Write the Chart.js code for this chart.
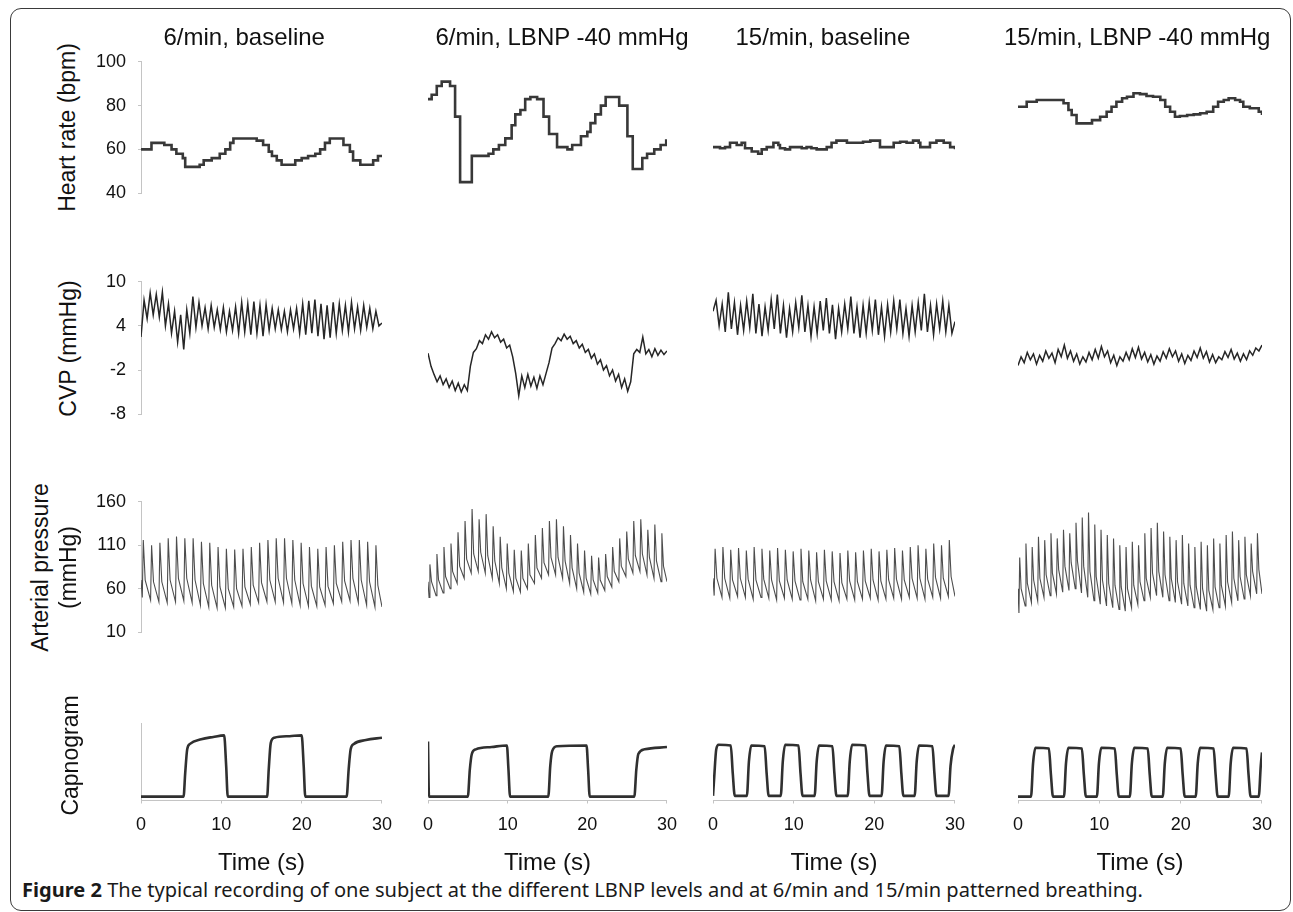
<!DOCTYPE html>
<html>
<head>
<meta charset="utf-8">
<title>Figure 2</title>
<script src="https://cdn.jsdelivr.net/npm/chart.js@4.4.1/dist/chart.umd.min.js"></script>
<style>
  html, body { margin: 0; padding: 0; background: #fff; }
  body { width: 1293px; height: 912px; position: relative; overflow: hidden; font-family: "Liberation Sans", Arial, sans-serif; color: #111; }
  #frame { position: absolute; left: 10px; top: 8px; width: 1281px; height: 903px; box-sizing: border-box; border: 1.5px solid #3a3a3a; border-radius: 11px; }
  .lbl { position: absolute; white-space: nowrap; line-height: 1; color: #111; }
  canvas { position: absolute; }
  #caption { position: absolute; white-space: nowrap; line-height: 1; font-family: "Noto Sans", "Open Sans", sans-serif; color: #1a1a1a; }
</style>
</head>
<body>
<div id="frame"></div>
<div id="caption"><b>Figure 2</b> The typical recording of one subject at the different LBNP levels and at 6/min and 15/min patterned breathing.</div>
<script>
// ---------- data ----------
const columnTitles = ["6/min, baseline", "6/min, LBNP -40 mmHg", "15/min, baseline", "15/min, LBNP -40 mmHg"];
const timeTicks = [0, 10, 20, 30];
const hrTicks = [40, 60, 80, 100];
const cvpTicks = [-8, -2, 4, 10];
const apTicks = [10, 60, 110, 160];
const capRange = [0, 1]; // capnogram has no scale, relative level only

// heart rate, beat to beat steps: start time (s) and bpm
const hrTime1 = [0, 1.3, 2.9, 3.8, 4.4, 5.2, 5.5, 7.3, 7.8, 8.8, 9.8, 10.5, 11.1, 11.5, 14.4, 15.2, 15.9, 16.3, 16.9, 17.5, 19.2, 20.0, 20.8, 21.7, 22.3, 22.9, 23.5, 25.2, 26.0, 26.4, 27.3, 28.9, 29.5, 30];
const hrBpm1 = [60, 63, 62, 60, 58, 56, 52, 53, 55, 56, 58, 60, 63, 65, 64, 62, 59, 57, 55, 53, 55, 56, 57, 58, 60, 63, 65, 62, 59, 55, 53, 55, 57, 57];
const hrTime2 = [0, 0.46, 1.1, 1.72, 2.77, 3.4, 4.03, 5.5, 7.6, 8.2, 8.9, 9.7, 10.5, 10.96, 11.6, 12.2, 12.85, 13.7, 14.5, 15.2, 16.2, 17.5, 18.1, 19.2, 20.0, 20.4, 21.0, 21.7, 22.3, 24.0, 24.6, 25.03, 25.7, 26.9, 27.5, 28.4, 29.2, 29.9, 30];
const hrBpm2 = [83, 85, 89, 91, 89, 75, 45, 57, 58, 60, 62, 65, 71, 76, 78, 83, 84, 83, 75, 67, 61, 60, 62, 66, 68, 72, 76, 80, 84, 80, 80, 66, 51, 56, 58, 60, 62, 64, 64];
const hrTime3 = [0, 0.87, 1.49, 2.11, 2.94, 3.55, 3.97, 4.8, 5.6, 6.04, 6.66, 7.49, 8.1, 8.3, 8.93, 9.55, 11.0, 11.6, 12.2, 12.85, 14.1, 14.7, 15.3, 16.6, 18.6, 19.5, 20.7, 22.4, 23.2, 24.0, 24.8, 25.5, 25.7, 26.9, 27.7, 28.6, 29.4, 30];
const hrBpm3 = [61, 60.5, 61, 63, 62, 63, 60.5, 59, 58, 60, 61, 63, 62, 60.5, 60, 61, 60.5, 61, 60.5, 60, 61, 63, 64, 63, 63.5, 64, 61, 63, 63.5, 63, 64, 63, 61, 63, 64, 63, 61, 60];
const hrTime4 = [0, 1.07, 2.3, 5.6, 6.2, 6.6, 7.2, 9.1, 10.1, 10.9, 11.5, 12.1, 12.8, 13.4, 14.2, 15.0, 15.8, 16.6, 17.5, 18.1, 18.7, 19.3, 19.9, 20.8, 21.6, 22.4, 23.2, 24.0, 24.6, 25.3, 25.9, 26.7, 27.3, 27.7, 28.5, 29.6, 30];
const hrBpm4 = [79.5, 81.8, 82.6, 81.1, 78, 75.7, 71.9, 73.4, 74.9, 77.2, 79.5, 81.8, 83.4, 84.1, 85.7, 85.3, 84.4, 84.1, 82.6, 79.5, 77.2, 74.9, 75.3, 75.7, 76, 76.5, 77.2, 79.5, 81.8, 82.6, 83.4, 82.6, 81.8, 79.5, 78.8, 77.2, 75.7];

// CVP (mmHg), evenly sampled over the 30 s
const cvp1 = [2.5, 7.5, 5.0, 8.5, 5.5, 8.3, 5.2, 8.6, 4.0, 7.0, 3.0, 6.0, 1.8, 5.5, 0.8, 6.2, 3.0, 8.0, 3.8, 7.2, 4.0, 6.5, 3.6, 6.8, 3.8, 6.2, 3.5, 6.5, 3.2, 6.0, 3.4, 6.6, 3.0, 7.2, 3.2, 7.0, 2.8, 7.3, 3.0, 6.8, 2.6, 6.9, 3.4, 6.4, 3.6, 6.2, 3.5, 6.0, 3.2, 6.2, 3.6, 6.4, 3.0, 7.0, 2.8, 7.4, 3.0, 7.6, 2.6, 7.0, 2.2, 6.8, 2.4, 7.2, 3.0, 7.0, 3.4, 6.8, 3.2, 7.2, 3.6, 6.6, 3.4, 6.8, 3.8, 6.4, 3.6, 6.0, 4.0, 4.4];
const cvp2 = [0.3, -1.5, -2.6, -3.6, -2.8, -4.0, -3.2, -4.4, -3.5, -4.8, -3.8, -5.0, -4.0, -4.8, -1.5, 0.4, 0.9, 2.0, 1.6, 2.8, 2.2, 3.2, 2.4, 2.8, 1.8, 2.2, 1.0, 1.4, -0.2, -2.5, -5.5, -2.8, -4.4, -2.6, -4.2, -3.0, -4.5, -2.8, -4.0, -2.5, -1.0, 1.0, 1.6, 2.4, 2.0, 2.9, 2.2, 2.6, 1.6, 2.0, 1.0, 1.5, 0.4, 0.8, -0.4, 0.2, -1.2, -0.6, -2.0, -1.4, -2.8, -2.0, -3.5, -2.6, -4.4, -3.2, -4.9, -3.6, 0.2, 0.8, 0.4, 2.5, 0.2, 0.8, -0.2, 0.9, 0.0, 0.7, 0.1, 0.6];
const cvp3 = [6.0, 7.5, 4.0, 7.0, 3.2, 8.6, 3.6, 7.2, 2.8, 6.8, 3.4, 7.4, 3.8, 8.4, 3.0, 7.0, 2.6, 6.6, 3.4, 7.6, 3.6, 8.3, 3.0, 6.8, 2.4, 6.4, 3.2, 7.2, 3.8, 8.2, 3.2, 6.8, 2.6, 6.6, 3.0, 7.4, 3.4, 7.8, 3.0, 6.9, 2.2, 6.4, 3.2, 7.0, 3.6, 8.0, 3.0, 6.6, 2.4, 6.8, 3.0, 7.2, 3.4, 7.6, 2.8, 6.6, 2.6, 6.9, 3.2, 7.4, 3.6, 7.6, 3.0, 6.4, 2.6, 6.8, 3.2, 7.2, 3.4, 8.4, 3.2, 6.8, 2.8, 7.0, 3.6, 7.4, 3.2, 6.8, 3.0, 4.6];
const cvp4 = [-1.4, -0.2, -1.0, 0.4, -0.6, 0.2, -1.2, 0.0, -0.8, 0.6, -0.4, 0.3, -1.0, 0.8, -0.2, 1.4, -0.4, 0.6, -0.8, 0.2, -1.2, -0.2, -0.9, 0.4, -0.6, 0.8, -0.4, 1.2, -0.2, 0.6, -1.0, 0.0, -1.4, -0.2, -0.8, 0.4, -0.6, 0.9, -0.3, 1.1, -0.5, 0.4, -0.9, 0.1, -1.2, -0.1, -0.8, 0.5, -0.4, 0.9, -0.2, 0.6, -0.8, 0.2, -1.1, 0.0, -0.7, 0.6, -0.3, 1.0, -0.4, 0.5, -0.9, 0.1, -1.0, -0.2, -0.6, 0.5, -0.3, 0.8, -0.5, 0.3, -0.8, 0.2, -0.6, 0.6, 0.0, 1.0, 0.6, 1.4];

// arterial pressure per beat (mmHg): systolic peak, dicrotic notch, diastolic trough
const apSys1 = [116, 110, 113, 118, 120, 118, 118, 114, 113, 108, 106, 105, 106, 108, 113, 116, 118, 118, 116, 113, 108, 106, 108, 110, 114, 116, 116, 114, 110];
const apNotch1 = [70, 68, 68, 70, 72, 72, 70, 66, 64, 62, 60, 60, 62, 64, 67, 70, 72, 72, 70, 66, 63, 62, 63, 66, 69, 72, 70, 68, 64];
const apDia1 = [50, 47, 45, 44, 45, 46, 44, 41, 39, 38, 38, 39, 40, 42, 44, 45, 45, 44, 43, 41, 40, 40, 41, 43, 45, 46, 44, 41, 39];
const apSys2 = [88, 100, 108, 112, 125, 138, 152, 140, 146, 132, 120, 112, 105, 104, 112, 122, 130, 138, 140, 132, 122, 112, 104, 98, 96, 100, 108, 118, 126, 138, 140, 128, 134, 124];
const apNotch2 = [68, 70, 74, 80, 86, 94, 100, 102, 98, 92, 84, 78, 72, 72, 76, 84, 90, 96, 96, 92, 84, 78, 72, 70, 70, 74, 80, 86, 94, 98, 100, 96, 92, 86];
const apDia2 = [50, 52, 55, 60, 66, 72, 78, 80, 78, 72, 66, 60, 57, 56, 60, 66, 72, 76, 76, 72, 66, 60, 56, 54, 55, 58, 62, 68, 74, 78, 80, 76, 72, 68];
const apSys3 = [106, 108, 105, 107, 104, 108, 106, 104, 107, 105, 103, 106, 104, 102, 105, 103, 101, 104, 102, 104, 106, 103, 105, 107, 104, 108, 110, 106, 112, 110, 116];
const apNotch3 = [72, 72, 70, 72, 71, 70, 71, 70, 69, 70, 69, 68, 70, 68, 69, 68, 67, 69, 68, 69, 70, 69, 70, 71, 70, 72, 72, 71, 73, 72, 74];
const apDia3 = [52, 50, 49, 51, 50, 48, 50, 49, 47, 49, 48, 47, 48, 46, 48, 47, 46, 48, 47, 48, 49, 47, 48, 49, 48, 50, 49, 48, 50, 49, 51];
const apSys4 = [96, 112, 108, 120, 116, 124, 118, 128, 124, 136, 142, 148, 134, 128, 122, 118, 110, 108, 114, 110, 124, 130, 136, 126, 120, 116, 122, 112, 108, 114, 110, 118, 112, 122, 126, 116, 120, 112, 124];
const apNotch4 = [60, 66, 70, 72, 76, 78, 82, 86, 90, 92, 86, 80, 74, 70, 66, 64, 62, 60, 64, 68, 72, 78, 80, 76, 72, 68, 66, 64, 62, 60, 58, 62, 64, 68, 72, 74, 76, 80, 82];
const apDia4 = [32, 40, 44, 46, 50, 52, 54, 56, 58, 60, 55, 50, 46, 42, 40, 38, 36, 34, 38, 42, 46, 50, 52, 50, 46, 44, 42, 40, 38, 36, 34, 36, 38, 40, 44, 46, 48, 52, 54];

// capnogram breakpoints: time (s) and relative CO2 level
const capTime1 = [0, 5.3, 5.5, 5.75, 6.1, 7.5, 9.0, 10.35, 10.6, 10.8, 15.7, 15.9, 16.15, 16.6, 18.5, 20.0, 20.25, 20.45, 25.6, 25.85, 26.1, 26.5, 28.0, 30];
const capLevel1 = [0.05, 0.05, 0.35, 0.66, 0.73, 0.79, 0.82, 0.84, 0.45, 0.05, 0.05, 0.4, 0.74, 0.81, 0.83, 0.84, 0.45, 0.05, 0.05, 0.4, 0.66, 0.73, 0.78, 0.81];
const capTime2 = [0, 0.12, 5.0, 5.25, 5.5, 6.0, 8.0, 9.9, 10.1, 10.3, 15.1, 15.35, 15.6, 16.2, 19.9, 20.1, 20.3, 25.9, 26.15, 26.4, 27.2, 30];
const capLevel2 = [0.76, 0.05, 0.05, 0.4, 0.6, 0.66, 0.69, 0.71, 0.4, 0.05, 0.05, 0.45, 0.64, 0.7, 0.71, 0.4, 0.05, 0.05, 0.4, 0.6, 0.66, 0.69];
const capTime3 = [0, 0.15, 0.4, 0.7, 2.2, 2.45, 2.7,
  4.2, 4.45, 4.75, 6.4, 6.65, 6.9,
  8.4, 8.65, 8.95, 10.6, 10.85, 11.1,
  12.6, 12.85, 13.15, 14.8, 15.05, 15.3,
  16.7, 16.95, 17.25, 18.9, 19.15, 19.4,
  20.9, 21.15, 21.45, 23.1, 23.35, 23.6,
  25.0, 25.25, 25.55, 27.2, 27.45, 27.7,
  29.2, 29.45, 29.75, 30];
const capLevel3 = [0.06, 0.3, 0.66, 0.72, 0.71, 0.35, 0.06,
  0.06, 0.5, 0.71, 0.7, 0.35, 0.06,
  0.06, 0.5, 0.72, 0.71, 0.35, 0.06,
  0.06, 0.5, 0.71, 0.7, 0.35, 0.06,
  0.06, 0.5, 0.72, 0.71, 0.35, 0.06,
  0.06, 0.5, 0.71, 0.7, 0.35, 0.06,
  0.06, 0.5, 0.71, 0.7, 0.35, 0.06,
  0.06, 0.45, 0.66, 0.72];
const capTime4 = [0, 1.6, 1.85, 2.15, 3.8, 4.05, 4.3,
  5.65, 5.9, 6.2, 7.85, 8.1, 8.35,
  9.7, 9.95, 10.25, 11.9, 12.15, 12.4,
  13.75, 14.0, 14.3, 15.95, 16.2, 16.45,
  17.8, 18.05, 18.35, 20.0, 20.25, 20.5,
  21.85, 22.1, 22.4, 24.05, 24.3, 24.55,
  25.9, 26.15, 26.45, 28.1, 28.35, 28.6,
  29.6, 29.85, 30];
const capLevel4 = [0.05, 0.05, 0.48, 0.68, 0.67, 0.33, 0.05,
  0.05, 0.48, 0.68, 0.67, 0.33, 0.05,
  0.05, 0.48, 0.68, 0.67, 0.33, 0.05,
  0.05, 0.48, 0.68, 0.67, 0.33, 0.05,
  0.05, 0.48, 0.68, 0.67, 0.33, 0.05,
  0.05, 0.48, 0.68, 0.67, 0.33, 0.05,
  0.05, 0.48, 0.68, 0.67, 0.33, 0.05,
  0.05, 0.45, 0.62];

// ---------- layout (px in the 1293x912 page) ----------
const colX = [[141, 382], [428, 667], [713, 955], [1018, 1262]];
const rowY = [[62, 193], [282, 414], [502, 632], [723, 787]];
const headX = [244, 562, 823, 1137];

Chart.defaults.font.family = '"Liberation Sans", Arial, sans-serif';
Chart.defaults.color = '#111';

function xy(ts, vs) { return ts.map((t, i) => ({ x: t, y: vs[i] })); }
function sampled(vs) { return vs.map((v, i) => ({ x: i * 30 / (vs.length - 1), y: v })); }
// one beat = trough, fast upstroke to systolic peak, drop to the notch
function beats(sys, notch, dia) {
    const T = 30 / sys.length, pts = [{ x: 0, y: notch[0] }];
    sys.forEach((s, i) => {
        const t0 = (i + 0.15) * T;
        pts.push({ x: t0, y: dia[i] }, { x: t0 + 0.12 * T, y: s }, { x: t0 + 0.35 * T, y: notch[i] });
    });
    pts.push({ x: 30, y: dia[dia.length - 1] });
    return pts;
}

const rows = [
    { ticks: hrTicks, labels: true, series: [xy(hrTime1, hrBpm1), xy(hrTime2, hrBpm2), xy(hrTime3, hrBpm3), xy(hrTime4, hrBpm4)],
      style: { borderColor: '#383838', borderWidth: 2.6, stepped: true } },
    { ticks: cvpTicks, labels: true, series: [sampled(cvp1), sampled(cvp2), sampled(cvp3), sampled(cvp4)],
      style: { borderColor: '#262626', borderWidth: 1.5 } },
    { ticks: apTicks, labels: true, series: [beats(apSys1, apNotch1, apDia1), beats(apSys2, apNotch2, apDia2), beats(apSys3, apNotch3, apDia3), beats(apSys4, apNotch4, apDia4)],
      style: { borderColor: '#4d4d4d', borderWidth: 1.1 } },
    { ticks: capRange, labels: false, series: [xy(capTime1, capLevel1), xy(capTime2, capLevel2), xy(capTime3, capLevel3), xy(capTime4, capLevel4)],
      style: { borderColor: '#303030', borderWidth: 2.6, cubicInterpolationMode: 'monotone' } }
];

function panelConfig(row, c, showX) {
    const yTicks = row.ticks;
    return {
        type: 'line',
        data: { datasets: [Object.assign({ data: row.series[c], pointRadius: 0, fill: false, tension: 0 }, row.style)] },
        options: {
            animation: false, responsive: false, maintainAspectRatio: false, events: [],
            layout: { padding: 4 },
            plugins: { legend: { display: false }, tooltip: { enabled: false } },
            scales: {
                x: {
                    type: 'linear', min: 0, max: 30, display: showX,
                    afterBuildTicks: s => { s.ticks = timeTicks.map(v => ({ value: v })); },
                    ticks: { font: { size: 18 }, color: '#111', padding: 11, maxRotation: 0, autoSkip: false },
                    grid: { display: true, drawOnChartArea: false, tickLength: 3, color: '#c4c4c4' },
                    border: { display: true, color: '#c4c4c4', width: 1 },
                    title: { display: true, text: 'Time (s)', font: { size: 24 }, color: '#111', padding: { top: 16, bottom: 0 } }
                },
                y: {
                    type: 'linear', min: yTicks[0], max: yTicks[yTicks.length - 1], display: c === 0,
                    afterBuildTicks: s => { s.ticks = yTicks.map(v => ({ value: v })); },
                    ticks: { display: row.labels, font: { size: 18 }, color: '#111', padding: 12 },
                    grid: { display: row.labels, drawOnChartArea: false, tickLength: 3, color: '#c4c4c4' },
                    border: { display: true, color: '#c4c4c4', width: 1 }
                }
            }
        }
    };
}

// draw once off-screen to learn the axis margins, then place the canvas so the plot area lands on `area`
function place(area, make) {
    const probe = document.createElement('canvas');
    probe.width = area.w + 300; probe.height = area.h + 300;
    probe.style.left = '-4000px'; probe.style.top = '0px';
    document.body.appendChild(probe);
    const pc = new Chart(probe, make());
    const ca = pc.chartArea;
    const l = ca.left, t = ca.top, r = probe.width - ca.right, b = probe.height - ca.bottom;
    pc.destroy(); probe.remove();
    const cv = document.createElement('canvas');
    cv.width = Math.round(l + area.w + r); cv.height = Math.round(t + area.h + b);
    cv.style.left = Math.round(area.x - l) + 'px';
    cv.style.top = Math.round(area.y - t) + 'px';
    document.body.appendChild(cv);
    return new Chart(cv, make());
}

rows.forEach((row, r) => {
    colX.forEach((cx, c) => {
        const area = { x: cx[0], y: rowY[r][0], w: cx[1] - cx[0], h: rowY[r][1] - rowY[r][0] };
        place(area, () => panelConfig(row, c, r === rows.length - 1));
    });
});

// ---------- text ----------
function addLabel(text, cx, cy, size, rotate) {
    const d = document.createElement('div');
    d.className = 'lbl';
    d.textContent = text;
    d.style.fontSize = size + 'px';
    document.body.appendChild(d);
    const w = d.offsetWidth, h = d.offsetHeight;
    d.style.left = (cx - w / 2) + 'px';
    d.style.top = (cy - h / 2) + 'px';
    if (rotate) d.style.transform = 'rotate(-90deg)';
    return d;
}

columnTitles.forEach((t, i) => addLabel(t, headX[i], 37, 24, false));
addLabel('Heart rate (bpm)', 67, 127, 23, true);
addLabel('CVP (mmHg)', 68, 348, 23, true);
addLabel('Arterial pressure', 40, 567, 23, true);
addLabel('(mmHg)', 68, 567, 23, true);
addLabel('Capnogram', 70, 755, 23, true);

const cap = document.getElementById('caption');
cap.style.fontSize = '17px';
const capW = cap.offsetWidth;
cap.style.fontSize = (17 * 1121 / capW).toFixed(2) + 'px';
cap.style.left = '22px';
cap.style.top = (890 - cap.offsetHeight / 2) + 'px';
</script>
</body>
</html>
